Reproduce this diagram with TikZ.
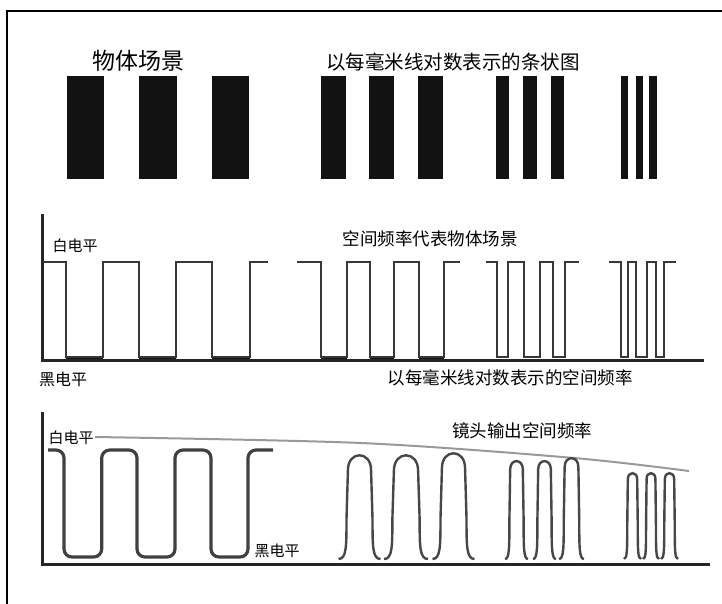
\documentclass[tikz,border=0pt]{standalone}
\usepackage{fontspec}
\newfontfamily\cjk{Noto Sans CJK SC}
\begin{document}
\begin{tikzpicture}[x=1pt,y=-1pt,
  barbox/.style={fill=black!93,draw=none},
  frameline/.style={line width=2pt,black},
  axisline/.style={line width=3pt,black!85,line cap=rect},
  sqwave/.style={line width=2pt,black!78,line join=miter},
  lowseg/.style={line width=3pt,black!92},
  roundwave/.style={line width=3.2pt,black!75,rounded corners=8pt},
  pulseline/.style={line width=2.4pt,black!72},
  envline/.style={line width=2pt,black!40},
  lbl/.style={font=\cjk\fontsize{15}{15}\selectfont,inner sep=0pt},
  mlbl/.style={font=\cjk\fontsize{17.5}{17.5}\selectfont,inner sep=0pt}]
\useasboundingbox (0,0) rectangle (722,604);
% frame
\draw[frameline] (7,604) -- (7,11) -- (722,11);
% top texts
\node[inner sep=0pt,font=\cjk\fontsize{23}{23}\selectfont] (scene) at (138,61) {物体场景};
\node[inner sep=0pt,font=\cjk\fontsize{19.5}{19.5}\selectfont] (barttl) at (453,62) {以每毫米线对数表示的条状图};
% bars
\foreach \a/\b in {66.7/104,138.7/176.7,211.7/249,320.5/345.8,369/394.3,417.8/442.8,496/509.3,523.3/537.3,551/564.3,620.7/628.3,635.7/643.3,649/657.3}
  \fill[barbox] (\a,76) rectangle (\b,179);
% ---------- middle section ----------
\draw[axisline] (42.7,215) -- (42.7,360) -- (702,360);
\foreach \a/\b in {66/103,138.5/176,211.7/250,321/346.5,369.5/394.3,418.5/443.5}
  \draw[lowseg] (\a,357) -- (\b,357);
\draw[sqwave] (43,262) -- (66,262) -- (66,357) -- (103,357) -- (103,262) -- (138.5,262) -- (138.5,357) -- (176,357) -- (176,262) -- (211.7,262) -- (211.7,357) -- (250,357) -- (250,262) -- (268,262);
\draw[sqwave] (297,262) -- (321,262) -- (321,357) -- (346.5,357) -- (346.5,262) -- (369.5,262) -- (369.5,357) -- (394.3,357) -- (394.3,262) -- (418.5,262) -- (418.5,357) -- (443.5,357) -- (443.5,262) -- (460,262);
\draw[sqwave] (486,262) -- (497,262) -- (497,357) -- (508,357) -- (508,262) -- (524,262) -- (524,357) -- (540,357) -- (540,262) -- (552.5,262) -- (552.5,357) -- (565,357) -- (565,262) -- (579,262);
\draw[sqwave] (609,262) -- (620.5,262) -- (620.5,357) -- (628,357) -- (628,262) -- (636,262) -- (636,357) -- (647,357) -- (647,262) -- (656,262) -- (656,357) -- (664,357) -- (664,262) -- (676,262);
\node[lbl] (white1) at (75,246) {白电平};
\node[lbl,font=\cjk\fontsize{16}{16}\selectfont] (black1) at (63,379) {黑电平};
\node[mlbl] (spttl) at (430,239) {空间频率代表物体场景};
\node[mlbl] (spax) at (510,378) {以每毫米线对数表示的空间频率};
% ---------- bottom section ----------
\draw[axisline] (42.3,413) -- (42.3,564) -- (708,564);
\draw[envline] plot[smooth] coordinates {(95,437) (361,443) (574,458) (689,471)};
\draw[roundwave] (48,450) -- (64,450) -- (64,557) -- (101.7,557) -- (101.7,450) -- (137,450) -- (137,557) -- (175,557) -- (175,450) -- (211,450) -- (211,557) -- (248,557) -- (248,450) -- (273,450);
% pulses: centre / half foot width / top
\foreach \c/\h/\t in {359.5/21/455,406/22/455,453.5/21/453,516.5/11.5/461,544.5/11.5/461,571.5/12.5/458,632.5/8.5/473,651/8/473,669.5/8.5/473}{
  \pgfmathsetmacro\s{0.55*\h}
  \pgfmathsetmacro\sb{0.62*\h}
  \pgfmathsetmacro\H{559-\t}
  \pgfmathsetmacro\ym{559-0.38*\H}
  \pgfmathsetmacro\yq{559-0.12*\H}
  \pgfmathsetmacro\ya{\t+1.3*\s}
  \pgfmathsetmacro\yc{\t-0.4*\s}
  \draw[pulseline] ({\c-\h},559) .. controls ({\c-\sb},559) and ({\c-\sb},\yq) .. ({\c-\sb},\ym)
    -- ({\c-\s},\ya) .. controls ({\c-\s},\yc) and ({\c+\s},\yc) .. ({\c+\s},\ya)
    -- ({\c+\sb},\ym) .. controls ({\c+\sb},\yq) and ({\c+\sb},559) .. ({\c+\h},559);
}
\node[lbl] (white2) at (71,438) {白电平};
\node[lbl] (black2) at (277,551) {黑电平};
\node[mlbl] (lensttl) at (522,431) {镜头输出空间频率};
\end{tikzpicture}
\end{document}
